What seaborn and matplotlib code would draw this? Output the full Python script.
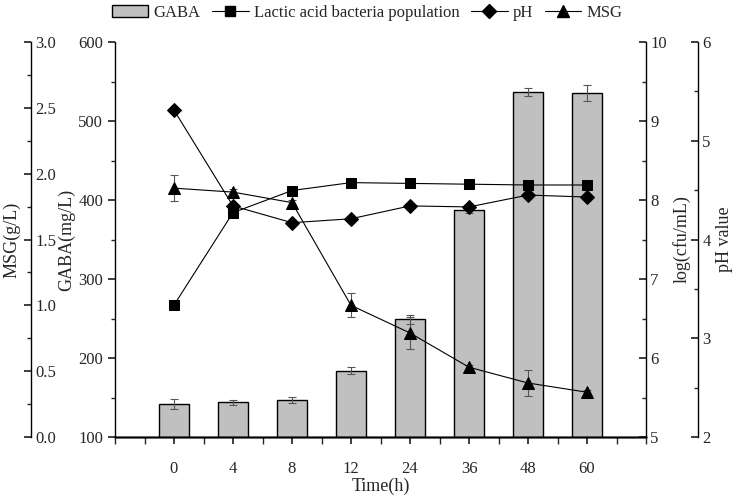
import matplotlib.pyplot as plt
import seaborn as sns
import pandas as pd
import numpy as np
from matplotlib.patches import Patch
from matplotlib.lines import Line2D
from matplotlib.ticker import MultipleLocator

# Dados
tempo = ["0", "4", "8", "12", "24", "36", "48", "60"]
gaba = [142, 144, 146.5, 184, 249, 387, 537, 535]
gaba_err = [6, 3, 4, 4, 6, 4, 5, 10]
bal = [6.67, 7.84, 8.12, 8.22, 8.21, 8.20, 8.19, 8.19]
ph = [5.31, 4.34, 4.17, 4.21, 4.34, 4.33, 4.45, 4.43]
msg = [1.89, 1.86, 1.78, 1.00, 0.79, 0.53, 0.41, 0.34]
msg_err = [0.10, 0.02, 0.02, 0.09, 0.12, 0.02, 0.10, 0.02]

df = pd.DataFrame({"Tempo": tempo, "GABA": gaba})
idx = np.arange(len(tempo))

sns.set_theme(style="ticks")
plt.rcParams["font.family"] = ["Liberation Serif", "DejaVu Serif"]
plt.rcParams["font.size"] = 12

fig = plt.figure(figsize=(7.39, 4.96), dpi=100)
ax = fig.add_axes([115 / 739, 1 - 437 / 496, 531 / 739, 395 / 496])

sns.barplot(data=df, x="Tempo", y="GABA", color="#c0c0c0", edgecolor="black",
            linewidth=1, width=0.52, errorbar=None, saturation=1, ax=ax)
ax.errorbar(idx, gaba, yerr=gaba_err, fmt="none", ecolor="#555555",
            elinewidth=0.8, capsize=3, capthick=0.8, zorder=5)
ax.set_ylim(100, 600)
ax.set_xlim(-1, 8)
ax.set_xticks(idx)
ax.set_xticklabels(tempo)
ax.xaxis.set_minor_locator(MultipleLocator(0.5))
ax.yaxis.set_major_locator(MultipleLocator(100))
ax.yaxis.set_minor_locator(MultipleLocator(50))
ax.set_xlabel("Time(h)", fontsize=13, labelpad=1)
ax.set_ylabel("GABA(mg/L)", fontsize=13, labelpad=2)
ax.tick_params(axis="x", which="major", direction="out", length=5, pad=12, labelsize=12)
ax.tick_params(axis="x", which="minor", direction="out", length=5)
ax.tick_params(axis="y", which="major", direction="out", length=5, labelsize=12)
ax.tick_params(axis="y", which="minor", direction="out", length=3)
ax.spines["top"].set_visible(False)
ax.spines["right"].set_visible(False)

# Eixo log(cfu/mL)
ax_bal = ax.twinx()
sns.lineplot(x=idx, y=bal, color="black", lw=0.8, marker="s", markersize=7,
             markeredgecolor="black", ax=ax_bal, zorder=6)
ax_bal.set_ylim(5, 10)
ax_bal.yaxis.set_major_locator(MultipleLocator(1))
ax_bal.yaxis.set_minor_locator(MultipleLocator(0.5))
ax_bal.set_ylabel("log(cfu/mL)", fontsize=13, labelpad=4)

# Eixo pH
ax_ph = ax.twinx()
ax_ph.spines["right"].set_position(("axes", 1 + 52 / 531))
sns.lineplot(x=idx, y=ph, color="black", lw=0.8, marker="D", markersize=7,
             markeredgecolor="black", ax=ax_ph, zorder=6)
ax_ph.set_ylim(2, 6)
ax_ph.yaxis.set_major_locator(MultipleLocator(1))
ax_ph.yaxis.set_minor_locator(MultipleLocator(0.5))
ax_ph.set_ylabel("pH value", fontsize=13, labelpad=4)

# Eixo MSG (à esquerda, rótulos à direita da espinha)
ax_msg = ax.twinx()
ax_msg.spines["right"].set_position(("axes", -84 / 531))
sns.lineplot(x=idx, y=msg, color="black", lw=0.8, marker="^", markersize=8,
             markeredgecolor="black", ax=ax_msg, zorder=6)
ax_msg.errorbar(idx, msg, yerr=msg_err, fmt="none", ecolor="#555555",
                elinewidth=0.8, capsize=3, capthick=0.8, zorder=5)
ax_msg.set_ylim(0, 3.0)
ax_msg.yaxis.set_major_locator(MultipleLocator(0.5))
ax_msg.yaxis.set_minor_locator(MultipleLocator(0.25))
ax_msg.yaxis.set_major_formatter(plt.FormatStrFormatter("%.1f"))
ax_msg.set_ylabel("")
fig.text(12 / 739, 1 - 240 / 496, "MSG(g/L)", rotation=90, fontsize=13,
         ha="center", va="center")

for a in (ax_bal, ax_ph, ax_msg):
    a.spines["top"].set_visible(False)
    a.spines["left"].set_visible(False)
    a.tick_params(axis="y", which="major", direction="in", length=5, labelsize=12, pad=3)
    a.tick_params(axis="y", which="minor", direction="in", length=3)
    a.set_xlim(-1, 8)

for a in (ax, ax_bal, ax_ph, ax_msg):
    for s in a.spines.values():
        s.set_color("black")
        s.set_linewidth(1)

handles = [
    Patch(facecolor="#c0c0c0", edgecolor="black", label="GABA"),
    Line2D([], [], color="black", lw=0.8, marker="s", markersize=7, label="Lactic acid bacteria population"),
    Line2D([], [], color="black", lw=0.8, marker="D", markersize=7, label="pH"),
    Line2D([], [], color="black", lw=0.8, marker="^", markersize=8, label="MSG"),
]
fig.legend(handles=handles, loc="center", bbox_to_anchor=(367 / 739, 1 - 13 / 496),
           ncol=4, frameon=False, fontsize=12, handlelength=2.2, columnspacing=0.7,
           handletextpad=0.3)

fig.savefig("out.png", dpi=100)
